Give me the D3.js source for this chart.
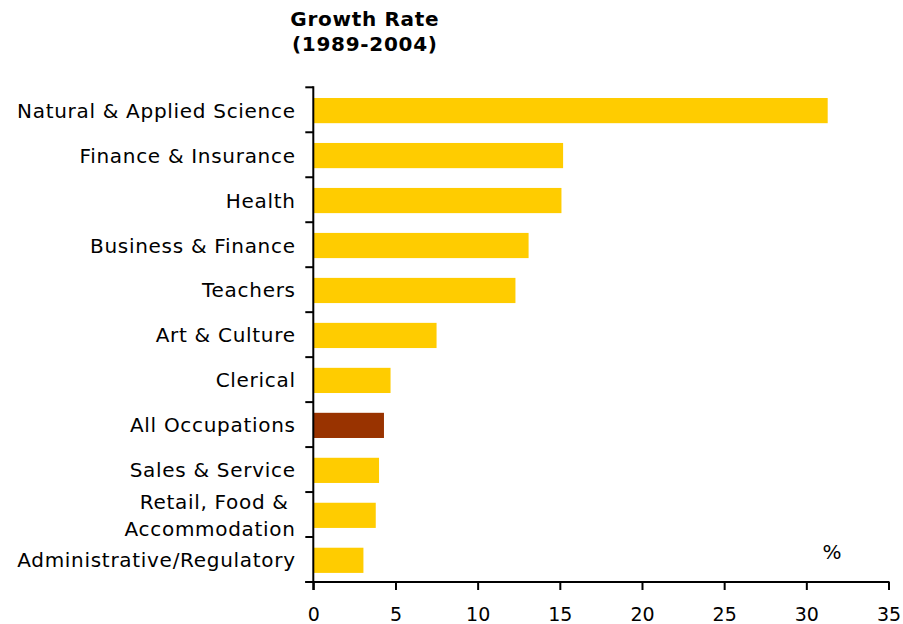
<!DOCTYPE html>
<html>
<head>
<meta charset="utf-8">
<script src="https://cdn.jsdelivr.net/npm/d3@7"></script>
<style>
  html, body { margin: 0; padding: 0; background: #fff; }
  svg { display: block; }
  text { font-family: "DejaVu Sans", Verdana, sans-serif; fill: #000; }
</style>
</head>
<body>
<svg id="chart" width="903" height="624"></svg>
<script>
// Occupation groups, top to bottom; each label line is a separate entry
const categories = [
  ["Natural & Applied Science"],
  ["Finance & Insurance"],
  ["Health"],
  ["Business & Finance"],
  ["Teachers"],
  ["Art & Culture"],
  ["Clerical"],
  ["All Occupations"],
  ["Sales & Service"],
  ["Retail, Food & ", "Accommodation"],
  ["Administrative/Regulatory"]
];
// Growth rate 1989-2004, %
const growth = [31.3, 15.2, 15.1, 13.1, 12.3, 7.5, 4.7, 4.3, 4.0, 3.8, 3.05];
const highlight = "All Occupations";
const xTicks = [0, 5, 10, 15, 20, 25, 30, 35];
const titleLines = ["Growth Rate", "(1989-2004)"];
const unitLabel = "%";

const svg = d3.select("#chart");
const plotLeft = 313.3, plotRight = 888.5, plotTop = 87.3, plotBottom = 582;
const fontSize = 20;
const spacing = 0.7;

const keys = categories.map(c => c.join(""));
const x = d3.scaleLinear().domain([0, 35]).range([plotLeft, plotRight]);
const y = d3.scaleBand().domain(keys).range([plotTop, plotBottom])
  .paddingInner(0.44).paddingOuter(0.22);

// bars
svg.append("g").selectAll("rect")
  .data(growth)
  .join("rect")
  .attr("x", x(0))
  .attr("y", (d, i) => y(keys[i]) + 0.8)
  .attr("width", d => x(d) - x(0))
  .attr("height", y.bandwidth())
  .attr("fill", (d, i) => keys[i] === highlight ? "#993300" : "#FFCC00");

// category labels
const labels = svg.append("g").attr("text-anchor", "end")
  .style("font-size", fontSize + "px")
  .style("letter-spacing", spacing + "px");
categories.forEach((lines, i) => {
  const cy = y(keys[i]) + y.bandwidth() / 2 + 0.8;
  const t = labels.append("text")
    .attr("xml:space", "preserve")
    .style("white-space", "pre");
  lines.forEach((ln, j) => {
    const off = (j - (lines.length - 1) / 2) * 26.5;
    t.append("tspan").attr("x", 295 + spacing).attr("y", cy + off + 7).text(ln);
  });
});

// value axis
const xAxis = d3.axisBottom(x).tickValues(xTicks).tickSize(8).tickSizeOuter(0);
const gx = svg.append("g").attr("transform", `translate(0,${plotBottom})`).call(xAxis);
gx.select(".domain").remove();
gx.selectAll(".tick line").attr("stroke", "#000").attr("stroke-width", 2);
gx.selectAll(".tick text")
  .attr("y", 39).attr("dy", null)
  .style("font-size", "19px")
  .style("font-family", "\"DejaVu Sans\", Verdana, sans-serif")
  .attr("fill", "#000");
svg.append("line")
  .attr("x1", plotLeft - 8).attr("x2", plotRight + 1)
  .attr("y1", plotBottom).attr("y2", plotBottom)
  .attr("stroke", "#000").attr("stroke-width", 2);

// category axis with ticks between bands
svg.append("line")
  .attr("x1", plotLeft).attr("x2", plotLeft)
  .attr("y1", plotTop - 1).attr("y2", plotBottom + 8)
  .attr("stroke", "#000").attr("stroke-width", 2);
const bounds = d3.range(keys.length + 1).map(i => plotTop + i * y.step());
svg.append("g").selectAll("line")
  .data(bounds)
  .join("line")
  .attr("x1", plotLeft - 8).attr("x2", plotLeft)
  .attr("y1", d => d).attr("y2", d => d)
  .attr("stroke", "#000").attr("stroke-width", 2);

// title
svg.append("g").attr("text-anchor", "middle")
  .style("font-size", "20px").style("font-weight", "bold")
  .style("letter-spacing", spacing + "px")
  .selectAll("text")
  .data(titleLines)
  .join("text")
  .attr("x", 364.5 + spacing / 2)
  .attr("y", (d, i) => 26 + i * 24.5)
  .text(d => d);

// unit label
svg.append("text")
  .attr("x", 832).attr("y", 559)
  .attr("text-anchor", "middle")
  .style("font-size", "20px")
  .text(unitLabel);
</script>
</body>
</html>
